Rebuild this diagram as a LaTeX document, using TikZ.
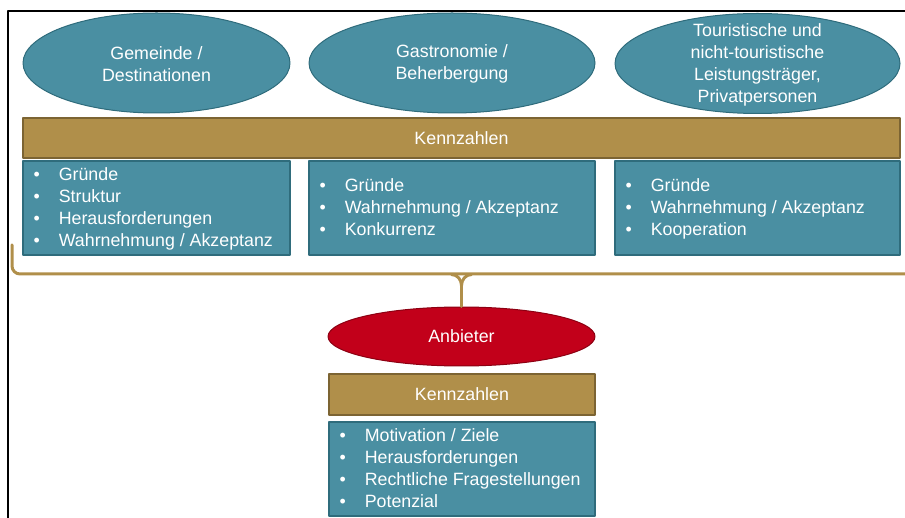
\documentclass[tikz,border=0pt]{standalone}
\usepackage{fontspec}
\setmainfont{Liberation Sans}
\usetikzlibrary{shapes.geometric,positioning}
\definecolor{tealfill}{HTML}{4A8FA2}
\definecolor{tealline}{HTML}{2F6C7C}
\definecolor{goldfill}{HTML}{B08F4A}
\definecolor{goldline}{HTML}{7C6433}
\definecolor{redfill}{HTML}{C2001A}
\definecolor{redline}{HTML}{8C0012}
\tikzset{
  every node/.style={font=\fontsize{17.8}{22}\selectfont, text=white},
  gruppe/.style={ellipse, draw=tealline, fill=tealfill, line width=1pt, inner sep=0pt, minimum height=100},
  gtext/.style={align=center, inner sep=0pt},
  kennbar/.style={rectangle, draw=goldline, fill=goldfill, line width=1.2pt, inner sep=0pt, minimum height=40},
  liste/.style={rectangle, draw=tealline, fill=tealfill, line width=1.2pt, inner sep=0pt, minimum height=94},
  punkte/.style={anchor=west, inner sep=0pt},
  klammer/.style={draw=goldfill, line width=3pt, rounded corners=8pt}
}
\newcommand{\punkt}{\textbullet\hspace{19pt}}

\begin{document}
\begin{tikzpicture}[x=1pt,y=-1pt,line cap=round,line join=round]
\useasboundingbox (0,0) rectangle (905,518);
% Rahmen
\draw[line width=2pt, line cap=butt] (8,518) -- (8,11) -- (905,11);
% Gruppen
\node[gruppe, minimum width=267, label={[gtext,yshift=-1]center:Gemeinde /\\Destinationen}] (gem) at (156.5,63) {};
\node[gruppe, minimum width=286, label={[gtext,yshift=-1]center:Gastronomie /\\Beherbergung}] (gas) at (452,63) {};
\node[gruppe, minimum width=285, label={[gtext,yshift=-1]center:Touristische und\\nicht-touristische\\Leistungsträger,\\Privatpersonen}] (lei) at (757.5,63.5) {};
\node[kennbar, minimum width=877] (kz) at (461.5,138) {Kennzahlen};
% Listen oben
\node[liste, minimum width=267] (l1) at (156.5,208) {};
\node[liste, minimum width=286] (l2) at (452,208) {};
\node[liste, minimum width=285] (l3) at (757.5,208) {};
\node[punkte] (p1) at ([xshift=11,yshift=-1.5]l1.west) {\begin{tabular}{@{}l@{}}\punkt Gründe\\\punkt Struktur\\\punkt Herausforderungen\\\punkt Wahrnehmung / Akzeptanz\end{tabular}};
\node[punkte] (p2) at ([xshift=11,yshift=-1.5]l2.west) {\begin{tabular}{@{}l@{}}\punkt Gründe\\\punkt Wahrnehmung / Akzeptanz\\\punkt Konkurrenz\end{tabular}};
\node[punkte] (p3) at ([xshift=11,yshift=-1.5]l3.west) {\begin{tabular}{@{}l@{}}\punkt Gründe\\\punkt Wahrnehmung / Akzeptanz\\\punkt Kooperation\end{tabular}};
% Anbieter
\node[gruppe, draw=redline, fill=redfill, minimum width=267, minimum height=59] (anb) at (461.5,336.5) {Anbieter};
\node[kennbar, minimum width=266, minimum height=41] (kz2) at (462,394.5) {Kennzahlen};
\node[liste, minimum width=266] (l4) at (462,469) {};
\node[punkte] (p4) at ([xshift=11,yshift=-1.5]l4.west) {\begin{tabular}{@{}l@{}}\punkt Motivation / Ziele\\\punkt Herausforderungen\\\punkt Rechtliche Fragestellungen\\\punkt Potenzial\end{tabular}};
% Klammer
\coordinate (kl) at (12,245);
\coordinate (kr) at (905,274);
\draw[klammer] (kl) |- (kr);
\draw[klammer, rounded corners=0pt] (anb.north) -- ++(0,-21) coordinate (spitze);
\draw[klammer, rounded corners=0pt] (spitze) to[out=90,in=0] ++(-10,-11);
\draw[klammer, rounded corners=0pt] (spitze) to[out=90,in=180] ++(10,-11);
\end{tikzpicture}
\end{document}
